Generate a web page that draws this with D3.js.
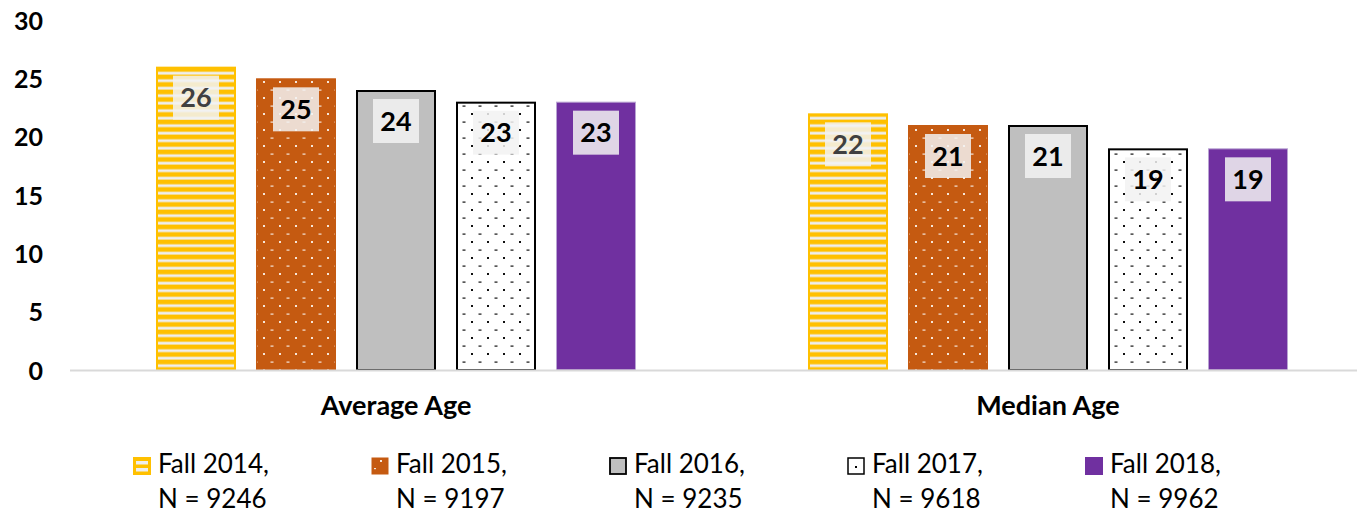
<!DOCTYPE html>
<html>
<head>
<meta charset="utf-8">
<script src="https://cdn.jsdelivr.net/npm/d3@7"></script>
<style>
  html, body { margin: 0; padding: 0; background: #fff; }
  svg { display: block; }
  text { font-family: Lato, "Noto Sans", sans-serif; }
</style>
</head>
<body>
<svg id="chart" width="1357" height="515"></svg>
<script>
// ---- data ----
const categories = ["Average Age", "Median Age"];
const seriesNames = ["Fall 2014", "Fall 2015", "Fall 2016", "Fall 2017", "Fall 2018"];
const seriesN = [9246, 9197, 9235, 9618, 9962];
const fall2014 = [26, 22];
const fall2015 = [25, 21];
const fall2016 = [24, 21];
const fall2017 = [23, 19];
const fall2018 = [23, 19];
const yTicks = [0, 5, 10, 15, 20, 25, 30];

const seriesValues = [fall2014, fall2015, fall2016, fall2017, fall2018];

// ---- layout ----
const W = 1357, H = 515;
const svg = d3.select("#chart");
const defs = svg.append("defs");

// patterns
const pStripe = defs.append("pattern").attr("id", "pStripe").attr("patternUnits", "userSpaceOnUse")
  .attr("width", 8).attr("height", 7.5);
pStripe.append("rect").attr("width", 8).attr("height", 7.5).attr("fill", "#FFC000");
pStripe.append("rect").attr("y", 4.3).attr("width", 8).attr("height", 2.8).attr("fill", "#EEEEEE");

function dotPattern(id, bg, fg) {
  const p = defs.append("pattern").attr("id", id).attr("patternUnits", "userSpaceOnUse")
    .attr("width", 16).attr("height", 16);
  p.append("rect").attr("width", 16).attr("height", 16).attr("fill", bg);
  p.append("rect").attr("x", 1).attr("y", 1).attr("width", 2).attr("height", 2).attr("fill", fg);
  p.append("rect").attr("x", 8.5).attr("y", 9.5).attr("width", 3).attr("height", 1.2).attr("fill", fg);
}
dotPattern("pDotOrange", "#C55A11", "#F6E6DA");
dotPattern("pDotWhite", "#FFFFFF", "#111111");

const styles = [
  { fill: "url(#pStripe)", stroke: "#FFC000", sw: 2, label: "#404040" },
  { fill: "url(#pDotOrange)", stroke: "#C55A11", sw: 1, label: "#000000" },
  { fill: "#BFBFBF", stroke: "#000000", sw: 2, label: "#000000" },
  { fill: "url(#pDotWhite)", stroke: "#000000", sw: 2, label: "#000000" },
  { fill: "#7030A0", stroke: "#B9A3D3", sw: 1, label: "#000000" }
];

const y = d3.scaleLinear().domain([0, 30]).range([370, 20]);
const x0 = d3.scaleBand().domain(categories).range([70, 1374]).padding(0);
const x1 = d3.scaleBand().domain(seriesNames).range([0, x0.bandwidth()])
  .paddingInner(0.2).paddingOuter(0.86);

// y axis labels
const yAxis = d3.axisLeft(y).tickValues(yTicks).tickSize(0).tickPadding(0);
const ya = svg.append("g").attr("transform", "translate(43,0)").call(yAxis);
ya.select(".domain").remove();
ya.selectAll("text").attr("font-family", "Lato, sans-serif").attr("font-weight", "bold")
  .attr("font-size", 25).attr("fill", "#000").attr("dy", "0.36em").attr("x", 0);

// bars
const groups = svg.append("g").selectAll("g").data(categories).join("g")
  .attr("transform", d => `translate(${x0(d)},0)`);

groups.each(function(cat, ci) {
  const g = d3.select(this);
  seriesNames.forEach((s, si) => {
    const v = seriesValues[si][ci];
    const st = styles[si];
    const bx = x1(s), bw = x1.bandwidth();
    g.append("rect")
      .attr("x", bx + st.sw / 2).attr("y", y(v) + st.sw / 2)
      .attr("width", bw - st.sw).attr("height", y(0) - y(v) - st.sw / 2)
      .attr("fill", st.fill).attr("stroke", st.stroke).attr("stroke-width", st.sw);
    // label box
    const cx = bx + bw / 2;
    const ty = y(v) + 9;
    g.append("rect").attr("x", cx - 23).attr("y", ty).attr("width", 46).attr("height", 44)
      .attr("fill", "#F2F2F2").attr("fill-opacity", 0.85);
    g.append("text").attr("x", cx).attr("y", ty + 22).attr("dy", "0.36em")
      .attr("text-anchor", "middle").attr("font-weight", "bold").attr("font-size", 27)
      .attr("fill", st.label).text(v);
  });
});

// x axis line
svg.append("line").attr("x1", 70).attr("x2", W).attr("y1", y(0) + 0.5).attr("y2", y(0) + 0.5)
  .attr("stroke", "#D9D9D9").attr("stroke-width", 2);

// category labels
const xAxis = d3.axisBottom(x0).tickSize(0).tickPadding(0);
const xa = svg.append("g").attr("transform", "translate(0,415)").call(xAxis);
xa.select(".domain").remove();
xa.selectAll("text").attr("font-family", "Lato, sans-serif").attr("font-weight", "bold")
  .attr("font-size", 27).attr("fill", "#000").attr("dy", 0).attr("y", 0);

// legend
const legendX = d3.scalePoint().domain(seriesNames).range([133, 1085]);
const lg = svg.append("g").selectAll("g").data(seriesNames).join("g")
  .attr("transform", d => `translate(${legendX(d)},457)`);
lg.each(function(s, si) {
  const g = d3.select(this);
  if (si === 0) {
    g.append("rect").attr("x", 1).attr("y", 1).attr("width", 16).attr("height", 16)
      .attr("fill", "#FFC000").attr("stroke", "#FFC000").attr("stroke-width", 2);
    g.append("rect").attr("x", 3).attr("y", 4).attr("width", 12).attr("height", 3.5).attr("fill", "#EEEEEE");
    g.append("rect").attr("x", 3).attr("y", 11).attr("width", 12).attr("height", 3.5).attr("fill", "#EEEEEE");
  } else if (si === 1) {
    g.append("rect").attr("x", 0.5).attr("y", 0.5).attr("width", 17).attr("height", 17).attr("fill", "#C55A11");
    g.append("rect").attr("x", 9).attr("y", 3).attr("width", 2).attr("height", 2).attr("fill", "#F6E6DA");
    g.append("rect").attr("x", 3).attr("y", 11).attr("width", 2).attr("height", 1.2).attr("fill", "#F6E6DA");
  } else if (si === 2) {
    g.append("rect").attr("x", 1).attr("y", 1).attr("width", 16).attr("height", 16)
      .attr("fill", "#BFBFBF").attr("stroke", "#000").attr("stroke-width", 1.8);
  } else if (si === 3) {
    g.append("rect").attr("x", 1).attr("y", 1).attr("width", 16).attr("height", 16)
      .attr("fill", "#fff").attr("stroke", "#000").attr("stroke-width", 1.5);
    g.append("rect").attr("x", 8).attr("y", 9).attr("width", 2).attr("height", 2).attr("fill", "#000");
  } else {
    g.append("rect").attr("x", 0).attr("y", 0).attr("width", 18).attr("height", 18).attr("fill", "#7030A0");
  }
  const t = g.append("text").attr("x", 25).attr("y", 16).attr("font-size", 26).attr("fill", "#000");
  t.append("tspan").attr("x", 25).attr("y", 16).text(s + ",");
  t.append("tspan").attr("x", 25).attr("y", 51).text("N = " + seriesN[si]);
});
</script>
</body>
</html>
